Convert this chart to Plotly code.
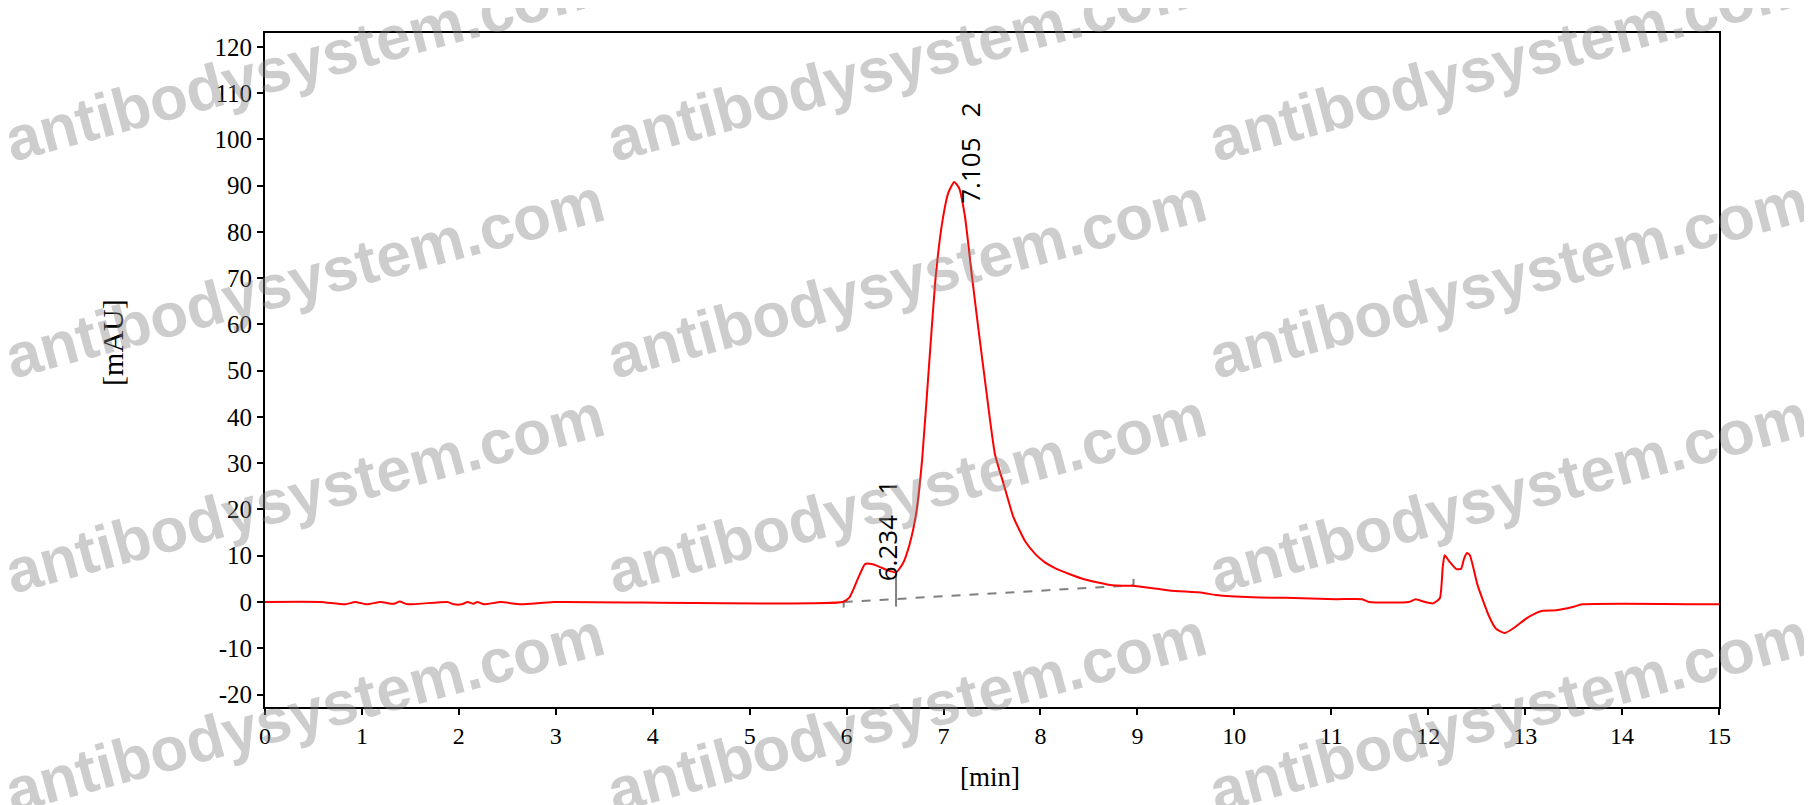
import plotly.graph_objects as go

# chromatogram trace
time_min = [0.00, 0.57, 0.83, 0.93, 1.05, 1.19, 1.33, 1.39, 1.47, 1.88, 1.95, 2.03, 2.09, 2.15,
            2.19, 2.26, 2.43, 2.64, 2.98, 5.96, 6.03, 6.12, 6.19, 6.26, 6.34, 6.43, 6.51, 6.58,
            6.65, 6.72, 6.78, 6.85, 6.92, 6.99, 7.05, 7.11, 7.16, 7.22, 7.29, 7.36, 7.43, 7.53,
            7.62, 7.72, 7.84, 7.95, 8.05, 8.15, 8.29, 8.45, 8.74, 8.95, 9.33, 9.67, 9.81, 10.19,
            10.53, 11.05, 11.32, 11.39, 11.80, 11.87, 11.95, 12.05, 12.12, 12.15, 12.17, 12.22,
            12.29, 12.34, 12.37, 12.40, 12.43, 12.51, 12.63, 12.70, 12.79, 12.87, 13.01, 13.10,
            13.18, 13.32, 13.49, 13.59, 15.00]
signal_mau = [0.0, 0.0, -0.5, 0.0, -0.5, 0.0, -0.4, 0.1, -0.5, 0.0, -0.5, -0.5, 0.0, -0.4,
              0.0, -0.5, 0.0, -0.5, 0.0, 0.0, 1.0, 5.2, 8.2, 8.2, 7.6, 6.8, 6.4, 8.3,
              12.5, 19.5, 31.0, 51.0, 70.5, 82.5, 88.5, 90.8, 89.5, 83.5, 71.0, 59.0, 47.5, 32.0,
              25.5, 18.4, 13.2, 10.3, 8.5, 7.3, 6.1, 4.9, 3.6, 3.5, 2.5, 2.0, 1.5, 1.0,
              0.9, 0.6, 0.6, 0.0, 0.0, 0.6, 0.1, -0.3, 0.8, 7.6, 10.1, 8.7,
              7.1, 7.2, 9.4, 10.6, 10.1, 3.6, -3.2, -5.8, -6.7, -5.8, -3.6, -2.5,
              -1.9, -1.8, -1.1, -0.5, -0.5]

# integration baseline and peak split marks
base_x = [5.97, 8.96]
base_y = [0.0, 3.6]
split_x = [6.51, 6.51]
split_y = [6.4, -1.0]
start_tick_y = [0.0, -1.2]
end_tick_y = [3.6, 5.0]

# peak labels
peak_rt = [6.42, 7.27]
peak_label_y = [4.0, 85.7]
peak_text = ["6.234\u00a0\u00a0\u00a01", "7.105\u00a0\u00a0\u00a02"]

x_ticks = list(range(0, 16))
y_ticks = [-20, -10, 0, 10, 20, 30, 40, 50, 60, 70, 80, 90, 100, 110, 120]
y_ticktext = ["-20", "-10", "0", "10", "20", "30", "40", "50", "60", "70", "80", "90", "100", "110", "120"]

# the page body adds 8px, so the figure is made 8px smaller and shifted back
PAD = 8
W, H = 1812 - PAD, 805 - PAD
L, R, T, B = 265 - PAD, 93, 33 - PAD, 98
pw, ph = W - L - R, H - T - B
px0, py1 = L + PAD, T + PAD + ph   # plot left / bottom in screen pixels

gray = "#808080"
fig = go.Figure()
fig.add_trace(go.Scatter(x=base_x, y=base_y, mode="lines",
                         line=dict(color=gray, width=2, dash="dash")))
fig.add_trace(go.Scatter(x=split_x, y=split_y, mode="lines", line=dict(color=gray, width=2)))
fig.add_trace(go.Scatter(x=[base_x[0], base_x[0]], y=start_tick_y, mode="lines",
                         line=dict(color=gray, width=2)))
fig.add_trace(go.Scatter(x=[base_x[1], base_x[1]], y=end_tick_y, mode="lines",
                         line=dict(color=gray, width=2)))
fig.add_trace(go.Scatter(x=time_min, y=signal_mau, mode="lines",
                         line=dict(color="#ff0000", width=2, shape="spline", smoothing=0.5)))

for x, y, txt in zip(peak_rt, peak_label_y, peak_text):
    fig.add_annotation(x=x, y=y, text=txt, textangle=-90, showarrow=False,
                       xanchor="center", yanchor="bottom",
                       font=dict(family="Open Sans", size=26, color="black"))

serif = "Liberation Serif"
fig.add_annotation(x=7.48, y=(py1 - 777) / ph, xref="x", yref="paper", text="[min]",
                   xanchor="center", yanchor="middle", showarrow=False,
                   font=dict(family=serif, size=27, color="black"))
fig.add_annotation(x=(113 - px0) / pw, y=56, xref="paper", yref="y", text="[mAU]",
                   xanchor="center", yanchor="middle", textangle=-90, showarrow=False,
                   font=dict(family=serif, size=30, color="black"))

# watermark grid (screen pixel centres)
wm_cols = [304, 906, 1508]
wm_rows = [62, 278, 493, 712]
for cy in wm_rows:
    for cx in wm_cols:
        fig.add_annotation(x=(cx - px0) / pw, y=(py1 - cy) / ph, xref="paper", yref="paper",
                           xanchor="center", yanchor="middle",
                           text="<b>antibodysystem.com</b>", textangle=-15, showarrow=False,
                           font=dict(family="Liberation Sans", size=62, color="rgba(130,130,130,0.4)"))

axis_common = dict(showline=True, linecolor="black", linewidth=2, mirror=True,
                   showgrid=False, zeroline=False, ticks="outside", ticklen=6, tickwidth=1.5,
                   tickcolor="black")
fig.update_xaxes(range=[0, 15], tickvals=x_ticks,
                 tickfont=dict(family=serif, size=24, color="black"), **axis_common)
fig.update_yaxes(range=[-22.7, 123.0], tickvals=y_ticks, ticktext=y_ticktext,
                 tickfont=dict(family=serif, size=25, color="black"), **axis_common)

fig.update_layout(width=W, height=H, margin=dict(l=L, r=R, t=T, b=B),
                  plot_bgcolor="white", paper_bgcolor="white", showlegend=False)

fig.write_html("out.html")
